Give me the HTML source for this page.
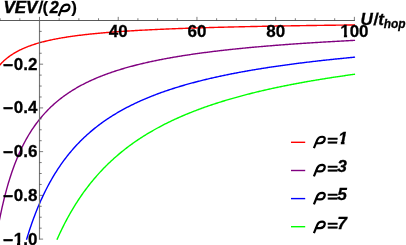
<!DOCTYPE html>
<html><head><meta charset="utf-8"><title>VEV plot</title><style>
html,body{margin:0;padding:0;background:#fff;}
svg{display:block;will-change:transform;}
text{font-family:"Liberation Sans",sans-serif;font-weight:bold;fill:#000;}
.it{font-style:italic;}
</style></head><body>
<svg width="406" height="245" viewBox="0 0 406 245">
<defs>
<path id="rho" d="M58.62 16.0 L62.0 7.7 C62.9 5.5 64.9 4.55 66.9 4.55 C68.8 4.55 69.8 5.8 69.4 7.4 C68.9 9.6 67.2 11.0 65.0 11.05 C63.4 11.1 61.8 11.0 60.75 10.75" fill="none" stroke="#000" stroke-width="2.2" stroke-linejoin="round"/>
</defs>
<filter id="soft" filterUnits="userSpaceOnUse" x="-10" y="-10" width="426" height="265"><feGaussianBlur stdDeviation="0.35"/></filter>
<g filter="url(#soft)">
<rect x="-10" y="-10" width="426" height="265" fill="#fff"/>
<path d="M-5.12 71.25 L-4.22 69.98 L-3.31 68.77 L-2.41 67.61 L-1.51 66.51 L-0.61 65.46 L0.29 64.45 L1.19 63.49 L2.09 62.57 L2.99 61.69 L3.89 60.85 L4.79 60.04 L5.70 59.26 L6.60 58.51 L7.50 57.79 L8.40 57.10 L9.30 56.43 L10.20 55.78 L11.10 55.16 L12.00 54.56 L12.90 53.98 L13.80 53.42 L14.71 52.88 L15.61 52.35 L16.51 51.84 L17.41 51.35 L18.31 50.88 L19.21 50.41 L20.11 49.97 L21.01 49.53 L21.91 49.11 L22.81 48.70 L23.72 48.30 L24.62 47.91 L25.52 47.53 L26.42 47.17 L27.32 46.81 L28.22 46.46 L29.12 46.12 L30.02 45.79 L30.92 45.47 L31.82 45.16 L32.72 44.85 L33.63 44.55 L34.53 44.26 L35.43 43.98 L36.33 43.70 L37.23 43.43 L38.13 43.16 L39.03 42.91 L39.93 42.65 L40.83 42.41 L41.73 42.16 L42.64 41.93 L43.54 41.70 L44.44 41.47 L45.34 41.25 L46.24 41.03 L47.14 40.82 L48.04 40.61 L48.94 40.41 L49.84 40.21 L50.74 40.01 L51.65 39.82 L52.55 39.63 L53.45 39.44 L54.35 39.26 L55.25 39.09 L56.15 38.91 L57.05 38.74 L57.95 38.57 L58.85 38.41 L59.75 38.24 L60.66 38.09 L61.56 37.93 L62.46 37.78 L63.36 37.62 L64.26 37.48 L65.16 37.33 L66.06 37.19 L66.96 37.05 L67.86 36.91 L68.76 36.77 L69.67 36.64 L70.57 36.51 L71.47 36.38 L72.37 36.25 L73.27 36.12 L74.17 36.00 L75.07 35.88 L75.97 35.76 L76.87 35.64 L77.77 35.52 L78.68 35.41 L79.58 35.30 L80.48 35.19 L81.38 35.08 L82.28 34.97 L83.18 34.86 L84.08 34.76 L84.98 34.65 L85.88 34.55 L86.78 34.45 L87.69 34.35 L88.59 34.26 L89.49 34.16 L90.39 34.07 L91.29 33.97 L92.19 33.88 L93.09 33.79 L93.99 33.70 L94.89 33.61 L95.79 33.52 L96.70 33.44 L97.60 33.35 L98.50 33.27 L99.40 33.19 L100.30 33.10 L101.20 33.02 L102.10 32.94 L103.00 32.87 L103.90 32.79 L104.80 32.71 L105.71 32.64 L106.61 32.56 L107.51 32.49 L108.41 32.41 L109.31 32.34 L110.21 32.27 L111.11 32.20 L112.01 32.13 L112.91 32.06 L113.81 31.99 L114.72 31.93 L115.62 31.86 L116.52 31.79 L117.42 31.73 L118.32 31.67 L119.22 31.60 L120.12 31.54 L121.02 31.48 L121.92 31.42 L122.82 31.35 L123.73 31.30 L124.63 31.24 L125.53 31.18 L126.43 31.12 L127.33 31.06 L128.23 31.00 L129.13 30.95 L130.03 30.89 L130.93 30.84 L131.83 30.78 L132.74 30.73 L133.64 30.68 L134.54 30.62 L135.44 30.57 L136.34 30.52 L137.24 30.47 L138.14 30.42 L139.04 30.37 L139.94 30.32 L140.84 30.27 L141.75 30.22 L142.65 30.17 L143.55 30.12 L144.45 30.08 L145.35 30.03 L146.25 29.98 L147.15 29.94 L148.05 29.89 L148.95 29.85 L149.85 29.80 L150.76 29.76 L151.66 29.72 L152.56 29.67 L153.46 29.63 L154.36 29.59 L155.26 29.54 L156.16 29.50 L157.06 29.46 L157.96 29.42 L158.86 29.38 L159.77 29.34 L160.67 29.30 L161.57 29.26 L162.47 29.22 L163.37 29.18 L164.27 29.14 L165.17 29.10 L166.07 29.07 L166.97 29.03 L167.87 28.99 L168.78 28.96 L169.68 28.92 L170.58 28.88 L171.48 28.85 L172.38 28.81 L173.28 28.78 L174.18 28.74 L175.08 28.71 L175.98 28.67 L176.88 28.64 L177.79 28.60 L178.69 28.57 L179.59 28.54 L180.49 28.50 L181.39 28.47 L182.29 28.44 L183.19 28.41 L184.09 28.37 L184.99 28.34 L185.89 28.31 L186.80 28.28 L187.70 28.25 L188.60 28.22 L189.50 28.19 L190.40 28.16 L191.30 28.13 L192.20 28.10 L193.10 28.07 L194.00 28.04 L194.90 28.01 L195.80 27.98 L196.71 27.95 L197.61 27.92 L198.51 27.90 L199.41 27.87 L200.31 27.84 L201.21 27.81 L202.11 27.78 L203.01 27.76 L203.91 27.73 L204.81 27.70 L205.72 27.68 L206.62 27.65 L207.52 27.62 L208.42 27.60 L209.32 27.57 L210.22 27.55 L211.12 27.52 L212.02 27.50 L212.92 27.47 L213.82 27.45 L214.73 27.42 L215.63 27.40 L216.53 27.37 L217.43 27.35 L218.33 27.32 L219.23 27.30 L220.13 27.28 L221.03 27.25 L221.93 27.23 L222.83 27.21 L223.74 27.18 L224.64 27.16 L225.54 27.14 L226.44 27.12 L227.34 27.09 L228.24 27.07 L229.14 27.05 L230.04 27.03 L230.94 27.00 L231.84 26.98 L232.75 26.96 L233.65 26.94 L234.55 26.92 L235.45 26.90 L236.35 26.88 L237.25 26.86 L238.15 26.83 L239.05 26.81 L239.95 26.79 L240.85 26.77 L241.76 26.75 L242.66 26.73 L243.56 26.71 L244.46 26.69 L245.36 26.67 L246.26 26.65 L247.16 26.63 L248.06 26.62 L248.96 26.60 L249.86 26.58 L250.77 26.56 L251.67 26.54 L252.57 26.52 L253.47 26.50 L254.37 26.48 L255.27 26.46 L256.17 26.45 L257.07 26.43 L257.97 26.41 L258.87 26.39 L259.78 26.37 L260.68 26.36 L261.58 26.34 L262.48 26.32 L263.38 26.30 L264.28 26.29 L265.18 26.27 L266.08 26.25 L266.98 26.24 L267.88 26.22 L268.79 26.20 L269.69 26.18 L270.59 26.17 L271.49 26.15 L272.39 26.14 L273.29 26.12 L274.19 26.10 L275.09 26.09 L275.99 26.07 L276.89 26.05 L277.80 26.04 L278.70 26.02 L279.60 26.01 L280.50 25.99 L281.40 25.98 L282.30 25.96 L283.20 25.94 L284.10 25.93 L285.00 25.91 L285.90 25.90 L286.81 25.88 L287.71 25.87 L288.61 25.85 L289.51 25.84 L290.41 25.83 L291.31 25.81 L292.21 25.80 L293.11 25.78 L294.01 25.77 L294.91 25.75 L295.82 25.74 L296.72 25.72 L297.62 25.71 L298.52 25.70 L299.42 25.68 L300.32 25.67 L301.22 25.65 L302.12 25.64 L303.02 25.63 L303.92 25.61 L304.83 25.60 L305.73 25.59 L306.63 25.57 L307.53 25.56 L308.43 25.55 L309.33 25.53 L310.23 25.52 L311.13 25.51 L312.03 25.49 L312.93 25.48 L313.84 25.47 L314.74 25.46 L315.64 25.44 L316.54 25.43 L317.44 25.42 L318.34 25.41 L319.24 25.39 L320.14 25.38 L321.04 25.37 L321.94 25.36 L322.85 25.34 L323.75 25.33 L324.65 25.32 L325.55 25.31 L326.45 25.30 L327.35 25.28 L328.25 25.27 L329.15 25.26 L330.05 25.25 L330.95 25.24 L331.86 25.23 L332.76 25.21 L333.66 25.20 L334.56 25.19 L335.46 25.18 L336.36 25.17 L337.26 25.16 L338.16 25.15 L339.06 25.14 L339.96 25.12 L340.87 25.11 L341.77 25.10 L342.67 25.09 L343.57 25.08 L344.47 25.07 L345.37 25.06 L346.27 25.05 L347.17 25.04 L348.07 25.03 L348.97 25.02 L349.88 25.01 L350.78 24.99 L351.68 24.98 L352.58 24.97 L353.48 24.96 L354.38 24.95" fill="none" stroke="#ff0000" stroke-width="1.4" stroke-linejoin="round" stroke-linecap="square"/>
<path d="M-3.31 235.08 L-2.41 229.93 L-1.51 225.02 L-0.61 220.33 L0.29 215.85 L1.19 211.57 L2.09 207.47 L2.99 203.55 L3.89 199.78 L4.79 196.17 L5.70 192.70 L6.60 189.37 L7.50 186.16 L8.40 183.07 L9.30 180.09 L10.20 177.22 L11.10 174.45 L12.00 171.78 L12.90 169.20 L13.80 166.71 L14.71 164.29 L15.61 161.96 L16.51 159.70 L17.41 157.51 L18.31 155.39 L19.21 153.34 L20.11 151.34 L21.01 149.41 L21.91 147.53 L22.81 145.70 L23.72 143.93 L24.62 142.21 L25.52 140.53 L26.42 138.90 L27.32 137.31 L28.22 135.77 L29.12 134.26 L30.02 132.80 L30.92 131.37 L31.82 129.97 L32.72 128.62 L33.63 127.29 L34.53 126.00 L35.43 124.74 L36.33 123.50 L37.23 122.30 L38.13 121.12 L39.03 119.98 L39.93 118.85 L40.83 117.75 L41.73 116.68 L42.64 115.63 L43.54 114.60 L44.44 113.60 L45.34 112.61 L46.24 111.65 L47.14 110.71 L48.04 109.78 L48.94 108.88 L49.84 107.99 L50.74 107.12 L51.65 106.27 L52.55 105.43 L53.45 104.61 L54.35 103.80 L55.25 103.02 L56.15 102.24 L57.05 101.48 L57.95 100.74 L58.85 100.00 L59.75 99.28 L60.66 98.58 L61.56 97.88 L62.46 97.20 L63.36 96.53 L64.26 95.87 L65.16 95.23 L66.06 94.59 L66.96 93.97 L67.86 93.35 L68.76 92.75 L69.67 92.15 L70.57 91.57 L71.47 90.99 L72.37 90.43 L73.27 89.87 L74.17 89.32 L75.07 88.78 L75.97 88.25 L76.87 87.73 L77.77 87.21 L78.68 86.71 L79.58 86.21 L80.48 85.71 L81.38 85.23 L82.28 84.75 L83.18 84.28 L84.08 83.82 L84.98 83.36 L85.88 82.91 L86.78 82.47 L87.69 82.03 L88.59 81.60 L89.49 81.17 L90.39 80.75 L91.29 80.34 L92.19 79.93 L93.09 79.53 L93.99 79.13 L94.89 78.74 L95.79 78.35 L96.70 77.97 L97.60 77.59 L98.50 77.22 L99.40 76.85 L100.30 76.49 L101.20 76.13 L102.10 75.78 L103.00 75.43 L103.90 75.08 L104.80 74.74 L105.71 74.41 L106.61 74.08 L107.51 73.75 L108.41 73.43 L109.31 73.11 L110.21 72.79 L111.11 72.48 L112.01 72.17 L112.91 71.86 L113.81 71.56 L114.72 71.26 L115.62 70.97 L116.52 70.68 L117.42 70.39 L118.32 70.11 L119.22 69.83 L120.12 69.55 L121.02 69.27 L121.92 69.00 L122.82 68.73 L123.73 68.47 L124.63 68.20 L125.53 67.94 L126.43 67.69 L127.33 67.43 L128.23 67.18 L129.13 66.93 L130.03 66.68 L130.93 66.44 L131.83 66.20 L132.74 65.96 L133.64 65.72 L134.54 65.49 L135.44 65.26 L136.34 65.03 L137.24 64.80 L138.14 64.58 L139.04 64.36 L139.94 64.14 L140.84 63.92 L141.75 63.70 L142.65 63.49 L143.55 63.28 L144.45 63.07 L145.35 62.86 L146.25 62.66 L147.15 62.45 L148.05 62.25 L148.95 62.05 L149.85 61.86 L150.76 61.66 L151.66 61.47 L152.56 61.27 L153.46 61.08 L154.36 60.90 L155.26 60.71 L156.16 60.52 L157.06 60.34 L157.96 60.16 L158.86 59.98 L159.77 59.80 L160.67 59.62 L161.57 59.45 L162.47 59.27 L163.37 59.10 L164.27 58.93 L165.17 58.76 L166.07 58.60 L166.97 58.43 L167.87 58.26 L168.78 58.10 L169.68 57.94 L170.58 57.78 L171.48 57.62 L172.38 57.46 L173.28 57.31 L174.18 57.15 L175.08 57.00 L175.98 56.84 L176.88 56.69 L177.79 56.54 L178.69 56.39 L179.59 56.25 L180.49 56.10 L181.39 55.96 L182.29 55.81 L183.19 55.67 L184.09 55.53 L184.99 55.39 L185.89 55.25 L186.80 55.11 L187.70 54.97 L188.60 54.84 L189.50 54.70 L190.40 54.57 L191.30 54.43 L192.20 54.30 L193.10 54.17 L194.00 54.04 L194.90 53.91 L195.80 53.78 L196.71 53.66 L197.61 53.53 L198.51 53.41 L199.41 53.28 L200.31 53.16 L201.21 53.04 L202.11 52.92 L203.01 52.79 L203.91 52.68 L204.81 52.56 L205.72 52.44 L206.62 52.32 L207.52 52.21 L208.42 52.09 L209.32 51.98 L210.22 51.86 L211.12 51.75 L212.02 51.64 L212.92 51.53 L213.82 51.42 L214.73 51.31 L215.63 51.20 L216.53 51.09 L217.43 50.98 L218.33 50.88 L219.23 50.77 L220.13 50.67 L221.03 50.56 L221.93 50.46 L222.83 50.35 L223.74 50.25 L224.64 50.15 L225.54 50.05 L226.44 49.95 L227.34 49.85 L228.24 49.75 L229.14 49.65 L230.04 49.56 L230.94 49.46 L231.84 49.36 L232.75 49.27 L233.65 49.17 L234.55 49.08 L235.45 48.98 L236.35 48.89 L237.25 48.80 L238.15 48.71 L239.05 48.62 L239.95 48.53 L240.85 48.44 L241.76 48.35 L242.66 48.26 L243.56 48.17 L244.46 48.08 L245.36 47.99 L246.26 47.91 L247.16 47.82 L248.06 47.73 L248.96 47.65 L249.86 47.57 L250.77 47.48 L251.67 47.40 L252.57 47.31 L253.47 47.23 L254.37 47.15 L255.27 47.07 L256.17 46.99 L257.07 46.91 L257.97 46.83 L258.87 46.75 L259.78 46.67 L260.68 46.59 L261.58 46.51 L262.48 46.43 L263.38 46.36 L264.28 46.28 L265.18 46.20 L266.08 46.13 L266.98 46.05 L267.88 45.98 L268.79 45.90 L269.69 45.83 L270.59 45.76 L271.49 45.68 L272.39 45.61 L273.29 45.54 L274.19 45.47 L275.09 45.39 L275.99 45.32 L276.89 45.25 L277.80 45.18 L278.70 45.11 L279.60 45.04 L280.50 44.97 L281.40 44.90 L282.30 44.84 L283.20 44.77 L284.10 44.70 L285.00 44.63 L285.90 44.57 L286.81 44.50 L287.71 44.43 L288.61 44.37 L289.51 44.30 L290.41 44.24 L291.31 44.17 L292.21 44.11 L293.11 44.04 L294.01 43.98 L294.91 43.92 L295.82 43.85 L296.72 43.79 L297.62 43.73 L298.52 43.67 L299.42 43.61 L300.32 43.54 L301.22 43.48 L302.12 43.42 L303.02 43.36 L303.92 43.30 L304.83 43.24 L305.73 43.18 L306.63 43.12 L307.53 43.06 L308.43 43.01 L309.33 42.95 L310.23 42.89 L311.13 42.83 L312.03 42.78 L312.93 42.72 L313.84 42.66 L314.74 42.61 L315.64 42.55 L316.54 42.49 L317.44 42.44 L318.34 42.38 L319.24 42.33 L320.14 42.27 L321.04 42.22 L321.94 42.16 L322.85 42.11 L323.75 42.06 L324.65 42.00 L325.55 41.95 L326.45 41.90 L327.35 41.84 L328.25 41.79 L329.15 41.74 L330.05 41.69 L330.95 41.64 L331.86 41.59 L332.76 41.53 L333.66 41.48 L334.56 41.43 L335.46 41.38 L336.36 41.33 L337.26 41.28 L338.16 41.23 L339.06 41.18 L339.96 41.13 L340.87 41.09 L341.77 41.04 L342.67 40.99 L343.57 40.94 L344.47 40.89 L345.37 40.84 L346.27 40.80 L347.17 40.75 L348.07 40.70 L348.97 40.65 L349.88 40.61 L350.78 40.56 L351.68 40.52 L352.58 40.47 L353.48 40.42 L354.38 40.38" fill="none" stroke="#800080" stroke-width="1.4" stroke-linejoin="round" stroke-linecap="square"/>
<path d="M26.67 239.10 L27.32 236.98 L28.22 234.10 L29.12 231.30 L30.02 228.57 L30.92 225.91 L31.82 223.32 L32.72 220.79 L33.63 218.32 L34.53 215.92 L35.43 213.57 L36.33 211.28 L37.23 209.04 L38.13 206.85 L39.03 204.71 L39.93 202.63 L40.83 200.59 L41.73 198.59 L42.64 196.64 L43.54 194.73 L44.44 192.86 L45.34 191.03 L46.24 189.24 L47.14 187.48 L48.04 185.77 L48.94 184.08 L49.84 182.43 L50.74 180.82 L51.65 179.23 L52.55 177.68 L53.45 176.16 L54.35 174.66 L55.25 173.20 L56.15 171.76 L57.05 170.35 L57.95 168.97 L58.85 167.61 L59.75 166.27 L60.66 164.96 L61.56 163.67 L62.46 162.41 L63.36 161.17 L64.26 159.94 L65.16 158.74 L66.06 157.57 L66.96 156.41 L67.86 155.27 L68.76 154.14 L69.67 153.04 L70.57 151.96 L71.47 150.89 L72.37 149.84 L73.27 148.81 L74.17 147.79 L75.07 146.79 L75.97 145.80 L76.87 144.83 L77.77 143.88 L78.68 142.94 L79.58 142.01 L80.48 141.10 L81.38 140.20 L82.28 139.32 L83.18 138.44 L84.08 137.58 L84.98 136.74 L85.88 135.90 L86.78 135.08 L87.69 134.27 L88.59 133.47 L89.49 132.68 L90.39 131.90 L91.29 131.13 L92.19 130.38 L93.09 129.63 L93.99 128.89 L94.89 128.17 L95.79 127.45 L96.70 126.74 L97.60 126.04 L98.50 125.35 L99.40 124.67 L100.30 124.00 L101.20 123.34 L102.10 122.69 L103.00 122.04 L103.90 121.40 L104.80 120.77 L105.71 120.15 L106.61 119.53 L107.51 118.93 L108.41 118.33 L109.31 117.74 L110.21 117.15 L111.11 116.57 L112.01 116.00 L112.91 115.44 L113.81 114.88 L114.72 114.33 L115.62 113.78 L116.52 113.24 L117.42 112.71 L118.32 112.18 L119.22 111.66 L120.12 111.15 L121.02 110.64 L121.92 110.14 L122.82 109.64 L123.73 109.15 L124.63 108.66 L125.53 108.18 L126.43 107.70 L127.33 107.23 L128.23 106.77 L129.13 106.31 L130.03 105.85 L130.93 105.40 L131.83 104.95 L132.74 104.51 L133.64 104.07 L134.54 103.64 L135.44 103.21 L136.34 102.79 L137.24 102.37 L138.14 101.95 L139.04 101.54 L139.94 101.13 L140.84 100.73 L141.75 100.33 L142.65 99.94 L143.55 99.55 L144.45 99.16 L145.35 98.78 L146.25 98.40 L147.15 98.02 L148.05 97.65 L148.95 97.28 L149.85 96.91 L150.76 96.55 L151.66 96.19 L152.56 95.84 L153.46 95.49 L154.36 95.14 L155.26 94.79 L156.16 94.45 L157.06 94.11 L157.96 93.77 L158.86 93.44 L159.77 93.11 L160.67 92.78 L161.57 92.46 L162.47 92.14 L163.37 91.82 L164.27 91.51 L165.17 91.19 L166.07 90.88 L166.97 90.58 L167.87 90.27 L168.78 89.97 L169.68 89.67 L170.58 89.37 L171.48 89.08 L172.38 88.79 L173.28 88.50 L174.18 88.21 L175.08 87.93 L175.98 87.64 L176.88 87.36 L177.79 87.09 L178.69 86.81 L179.59 86.54 L180.49 86.27 L181.39 86.00 L182.29 85.73 L183.19 85.47 L184.09 85.21 L184.99 84.95 L185.89 84.69 L186.80 84.43 L187.70 84.18 L188.60 83.93 L189.50 83.68 L190.40 83.43 L191.30 83.19 L192.20 82.94 L193.10 82.70 L194.00 82.46 L194.90 82.22 L195.80 81.99 L196.71 81.75 L197.61 81.52 L198.51 81.29 L199.41 81.06 L200.31 80.83 L201.21 80.60 L202.11 80.38 L203.01 80.16 L203.91 79.94 L204.81 79.72 L205.72 79.50 L206.62 79.28 L207.52 79.07 L208.42 78.86 L209.32 78.64 L210.22 78.43 L211.12 78.23 L212.02 78.02 L212.92 77.81 L213.82 77.61 L214.73 77.41 L215.63 77.21 L216.53 77.01 L217.43 76.81 L218.33 76.61 L219.23 76.42 L220.13 76.22 L221.03 76.03 L221.93 75.84 L222.83 75.65 L223.74 75.46 L224.64 75.27 L225.54 75.08 L226.44 74.90 L227.34 74.72 L228.24 74.53 L229.14 74.35 L230.04 74.17 L230.94 73.99 L231.84 73.81 L232.75 73.64 L233.65 73.46 L234.55 73.29 L235.45 73.12 L236.35 72.94 L237.25 72.77 L238.15 72.60 L239.05 72.43 L239.95 72.27 L240.85 72.10 L241.76 71.93 L242.66 71.77 L243.56 71.61 L244.46 71.44 L245.36 71.28 L246.26 71.12 L247.16 70.96 L248.06 70.81 L248.96 70.65 L249.86 70.49 L250.77 70.34 L251.67 70.18 L252.57 70.03 L253.47 69.88 L254.37 69.73 L255.27 69.57 L256.17 69.43 L257.07 69.28 L257.97 69.13 L258.87 68.98 L259.78 68.84 L260.68 68.69 L261.58 68.55 L262.48 68.40 L263.38 68.26 L264.28 68.12 L265.18 67.98 L266.08 67.84 L266.98 67.70 L267.88 67.56 L268.79 67.42 L269.69 67.28 L270.59 67.15 L271.49 67.01 L272.39 66.88 L273.29 66.75 L274.19 66.61 L275.09 66.48 L275.99 66.35 L276.89 66.22 L277.80 66.09 L278.70 65.96 L279.60 65.83 L280.50 65.70 L281.40 65.58 L282.30 65.45 L283.20 65.32 L284.10 65.20 L285.00 65.07 L285.90 64.95 L286.81 64.83 L287.71 64.71 L288.61 64.58 L289.51 64.46 L290.41 64.34 L291.31 64.22 L292.21 64.11 L293.11 63.99 L294.01 63.87 L294.91 63.75 L295.82 63.64 L296.72 63.52 L297.62 63.41 L298.52 63.29 L299.42 63.18 L300.32 63.06 L301.22 62.95 L302.12 62.84 L303.02 62.73 L303.92 62.62 L304.83 62.51 L305.73 62.40 L306.63 62.29 L307.53 62.18 L308.43 62.07 L309.33 61.96 L310.23 61.86 L311.13 61.75 L312.03 61.64 L312.93 61.54 L313.84 61.43 L314.74 61.33 L315.64 61.23 L316.54 61.12 L317.44 61.02 L318.34 60.92 L319.24 60.82 L320.14 60.72 L321.04 60.61 L321.94 60.51 L322.85 60.42 L323.75 60.32 L324.65 60.22 L325.55 60.12 L326.45 60.02 L327.35 59.92 L328.25 59.83 L329.15 59.73 L330.05 59.64 L330.95 59.54 L331.86 59.45 L332.76 59.35 L333.66 59.26 L334.56 59.16 L335.46 59.07 L336.36 58.98 L337.26 58.89 L338.16 58.79 L339.06 58.70 L339.96 58.61 L340.87 58.52 L341.77 58.43 L342.67 58.34 L343.57 58.25 L344.47 58.16 L345.37 58.08 L346.27 57.99 L347.17 57.90 L348.07 57.81 L348.97 57.73 L349.88 57.64 L350.78 57.56 L351.68 57.47 L352.58 57.38 L353.48 57.30 L354.38 57.22" fill="none" stroke="#0000ff" stroke-width="1.4" stroke-linejoin="round" stroke-linecap="square"/>
<path d="M57.21 239.10 L57.95 237.43 L58.85 235.45 L59.75 233.51 L60.66 231.60 L61.56 229.72 L62.46 227.88 L63.36 226.07 L64.26 224.29 L65.16 222.55 L66.06 220.83 L66.96 219.14 L67.86 217.48 L68.76 215.84 L69.67 214.24 L70.57 212.66 L71.47 211.10 L72.37 209.57 L73.27 208.06 L74.17 206.58 L75.07 205.12 L75.97 203.69 L76.87 202.27 L77.77 200.88 L78.68 199.51 L79.58 198.16 L80.48 196.83 L81.38 195.52 L82.28 194.23 L83.18 192.96 L84.08 191.70 L84.98 190.47 L85.88 189.25 L86.78 188.05 L87.69 186.87 L88.59 185.70 L89.49 184.55 L90.39 183.41 L91.29 182.29 L92.19 181.19 L93.09 180.10 L93.99 179.03 L94.89 177.97 L95.79 176.92 L96.70 175.89 L97.60 174.87 L98.50 173.86 L99.40 172.87 L100.30 171.89 L101.20 170.93 L102.10 169.97 L103.00 169.03 L103.90 168.10 L104.80 167.18 L105.71 166.27 L106.61 165.37 L107.51 164.49 L108.41 163.61 L109.31 162.75 L110.21 161.89 L111.11 161.05 L112.01 160.22 L112.91 159.39 L113.81 158.58 L114.72 157.77 L115.62 156.98 L116.52 156.19 L117.42 155.41 L118.32 154.64 L119.22 153.88 L120.12 153.13 L121.02 152.39 L121.92 151.66 L122.82 150.93 L123.73 150.21 L124.63 149.50 L125.53 148.80 L126.43 148.10 L127.33 147.41 L128.23 146.73 L129.13 146.06 L130.03 145.39 L130.93 144.74 L131.83 144.08 L132.74 143.44 L133.64 142.80 L134.54 142.17 L135.44 141.54 L136.34 140.92 L137.24 140.31 L138.14 139.70 L139.04 139.10 L139.94 138.51 L140.84 137.92 L141.75 137.34 L142.65 136.76 L143.55 136.19 L144.45 135.62 L145.35 135.06 L146.25 134.51 L147.15 133.96 L148.05 133.41 L148.95 132.88 L149.85 132.34 L150.76 131.81 L151.66 131.29 L152.56 130.77 L153.46 130.26 L154.36 129.75 L155.26 129.24 L156.16 128.74 L157.06 128.25 L157.96 127.76 L158.86 127.27 L159.77 126.79 L160.67 126.31 L161.57 125.84 L162.47 125.37 L163.37 124.90 L164.27 124.44 L165.17 123.98 L166.07 123.53 L166.97 123.08 L167.87 122.64 L168.78 122.20 L169.68 121.76 L170.58 121.33 L171.48 120.90 L172.38 120.47 L173.28 120.05 L174.18 119.63 L175.08 119.21 L175.98 118.80 L176.88 118.39 L177.79 117.99 L178.69 117.58 L179.59 117.18 L180.49 116.79 L181.39 116.40 L182.29 116.01 L183.19 115.62 L184.09 115.24 L184.99 114.86 L185.89 114.48 L186.80 114.11 L187.70 113.74 L188.60 113.37 L189.50 113.00 L190.40 112.64 L191.30 112.28 L192.20 111.93 L193.10 111.57 L194.00 111.22 L194.90 110.87 L195.80 110.53 L196.71 110.19 L197.61 109.84 L198.51 109.51 L199.41 109.17 L200.31 108.84 L201.21 108.51 L202.11 108.18 L203.01 107.86 L203.91 107.53 L204.81 107.21 L205.72 106.89 L206.62 106.58 L207.52 106.26 L208.42 105.95 L209.32 105.64 L210.22 105.34 L211.12 105.03 L212.02 104.73 L212.92 104.43 L213.82 104.13 L214.73 103.83 L215.63 103.54 L216.53 103.25 L217.43 102.96 L218.33 102.67 L219.23 102.38 L220.13 102.10 L221.03 101.82 L221.93 101.54 L222.83 101.26 L223.74 100.98 L224.64 100.71 L225.54 100.44 L226.44 100.17 L227.34 99.90 L228.24 99.63 L229.14 99.37 L230.04 99.10 L230.94 98.84 L231.84 98.58 L232.75 98.32 L233.65 98.07 L234.55 97.81 L235.45 97.56 L236.35 97.31 L237.25 97.06 L238.15 96.81 L239.05 96.56 L239.95 96.32 L240.85 96.07 L241.76 95.83 L242.66 95.59 L243.56 95.35 L244.46 95.12 L245.36 94.88 L246.26 94.65 L247.16 94.41 L248.06 94.18 L248.96 93.95 L249.86 93.72 L250.77 93.50 L251.67 93.27 L252.57 93.05 L253.47 92.82 L254.37 92.60 L255.27 92.38 L256.17 92.16 L257.07 91.94 L257.97 91.73 L258.87 91.51 L259.78 91.30 L260.68 91.09 L261.58 90.88 L262.48 90.67 L263.38 90.46 L264.28 90.25 L265.18 90.04 L266.08 89.84 L266.98 89.64 L267.88 89.43 L268.79 89.23 L269.69 89.03 L270.59 88.83 L271.49 88.63 L272.39 88.44 L273.29 88.24 L274.19 88.05 L275.09 87.85 L275.99 87.66 L276.89 87.47 L277.80 87.28 L278.70 87.09 L279.60 86.90 L280.50 86.72 L281.40 86.53 L282.30 86.35 L283.20 86.16 L284.10 85.98 L285.00 85.80 L285.90 85.62 L286.81 85.44 L287.71 85.26 L288.61 85.08 L289.51 84.90 L290.41 84.73 L291.31 84.55 L292.21 84.38 L293.11 84.21 L294.01 84.03 L294.91 83.86 L295.82 83.69 L296.72 83.52 L297.62 83.36 L298.52 83.19 L299.42 83.02 L300.32 82.86 L301.22 82.69 L302.12 82.53 L303.02 82.36 L303.92 82.20 L304.83 82.04 L305.73 81.88 L306.63 81.72 L307.53 81.56 L308.43 81.40 L309.33 81.25 L310.23 81.09 L311.13 80.93 L312.03 80.78 L312.93 80.62 L313.84 80.47 L314.74 80.32 L315.64 80.17 L316.54 80.02 L317.44 79.87 L318.34 79.72 L319.24 79.57 L320.14 79.42 L321.04 79.27 L321.94 79.13 L322.85 78.98 L323.75 78.84 L324.65 78.69 L325.55 78.55 L326.45 78.40 L327.35 78.26 L328.25 78.12 L329.15 77.98 L330.05 77.84 L330.95 77.70 L331.86 77.56 L332.76 77.42 L333.66 77.29 L334.56 77.15 L335.46 77.01 L336.36 76.88 L337.26 76.74 L338.16 76.61 L339.06 76.48 L339.96 76.34 L340.87 76.21 L341.77 76.08 L342.67 75.95 L343.57 75.82 L344.47 75.69 L345.37 75.56 L346.27 75.43 L347.17 75.30 L348.07 75.17 L348.97 75.05 L349.88 74.92 L350.78 74.80 L351.68 74.67 L352.58 74.55 L353.48 74.42 L354.38 74.30" fill="none" stroke="#00ff00" stroke-width="1.4" stroke-linejoin="round" stroke-linecap="square"/>
<path d="M-5 20.45 H354.88" stroke="#5a5a5a" stroke-width="1.05" fill="none"/>
<path d="M39.50 20.45 V239.60" stroke="#747474" stroke-width="1.15" fill="none"/>
<g stroke="#444" stroke-width="0.7" fill="none">
<path d="M0.14 20.45 v-2.20"/>
<path d="M19.82 20.45 v-2.20"/>
<path d="M39.50 20.45 v-3.60"/>
<path d="M59.18 20.45 v-2.20"/>
<path d="M78.86 20.45 v-2.20"/>
<path d="M98.54 20.45 v-2.20"/>
<path d="M118.22 20.45 v-3.60"/>
<path d="M137.90 20.45 v-2.20"/>
<path d="M157.58 20.45 v-2.20"/>
<path d="M177.26 20.45 v-2.20"/>
<path d="M196.94 20.45 v-3.60"/>
<path d="M216.62 20.45 v-2.20"/>
<path d="M236.30 20.45 v-2.20"/>
<path d="M255.98 20.45 v-2.20"/>
<path d="M275.66 20.45 v-3.60"/>
<path d="M295.34 20.45 v-2.20"/>
<path d="M315.02 20.45 v-2.20"/>
<path d="M334.70 20.45 v-2.20"/>
<path d="M354.38 20.45 v-3.60"/>
<path d="M39.50 31.38 h2.20"/>
<path d="M39.50 42.31 h2.20"/>
<path d="M39.50 53.25 h2.20"/>
<path d="M39.50 64.18 h3.60"/>
<path d="M39.50 75.11 h2.20"/>
<path d="M39.50 86.05 h2.20"/>
<path d="M39.50 96.98 h2.20"/>
<path d="M39.50 107.91 h3.60"/>
<path d="M39.50 118.84 h2.20"/>
<path d="M39.50 129.78 h2.20"/>
<path d="M39.50 140.71 h2.20"/>
<path d="M39.50 151.64 h3.60"/>
<path d="M39.50 162.57 h2.20"/>
<path d="M39.50 173.50 h2.20"/>
<path d="M39.50 184.44 h2.20"/>
<path d="M39.50 195.37 h3.60"/>
<path d="M39.50 206.30 h2.20"/>
<path d="M39.50 217.23 h2.20"/>
<path d="M39.50 228.17 h2.20"/>
<path d="M39.50 239.10 h3.60"/>
</g>
<text class="" transform="translate(118.22 37.35) scale(1.000 1)" font-size="17.00" text-anchor="middle" stroke="#000" stroke-width="0.28">40</text>
<text class="" transform="translate(196.94 37.35) scale(1.000 1)" font-size="17.00" text-anchor="middle" stroke="#000" stroke-width="0.28">60</text>
<text class="" transform="translate(275.66 37.35) scale(1.000 1)" font-size="17.00" text-anchor="middle" stroke="#000" stroke-width="0.28">80</text>
<text class="" transform="translate(354.38 37.35) scale(1.000 1)" font-size="17.00" text-anchor="middle" stroke="#000" stroke-width="0.28">100</text>
<text class="" transform="translate(37.50 69.68) scale(1.000 1)" font-size="17.00" text-anchor="end" stroke="#000" stroke-width="0.28"><tspan dy="1" stroke-width="0.6">−</tspan><tspan dx="0.7" dy="-1">0.2</tspan></text>
<text class="" transform="translate(37.50 113.41) scale(1.000 1)" font-size="17.00" text-anchor="end" stroke="#000" stroke-width="0.28"><tspan dy="1" stroke-width="0.6">−</tspan><tspan dx="0.7" dy="-1">0.4</tspan></text>
<text class="" transform="translate(37.50 157.14) scale(1.000 1)" font-size="17.00" text-anchor="end" stroke="#000" stroke-width="0.28"><tspan dy="1" stroke-width="0.6">−</tspan><tspan dx="0.7" dy="-1">0.6</tspan></text>
<text class="" transform="translate(37.50 200.87) scale(1.000 1)" font-size="17.00" text-anchor="end" stroke="#000" stroke-width="0.28"><tspan dy="1" stroke-width="0.6">−</tspan><tspan dx="0.7" dy="-1">0.8</tspan></text>
<text class="" transform="translate(37.50 244.60) scale(1.000 1)" font-size="17.00" text-anchor="end" stroke="#000" stroke-width="0.28"><tspan dy="1" stroke-width="0.6">−</tspan><tspan dx="0.7" dy="-1">1.0</tspan></text>
<text class="it" transform="translate(3.60 12.5) scale(1.000 1)" font-size="17" stroke="#000" stroke-width="0.45">V</text>
<text class="it" transform="translate(14.80 12.5) scale(1.000 1)" font-size="17" stroke="#000" stroke-width="0.45">E</text>
<text class="it" transform="translate(26.10 12.5) scale(1.000 1)" font-size="17" stroke="#000" stroke-width="0.45">V</text>
<text class="" transform="translate(37.80 12.5) scale(1.000 1) skewX(-5)" font-size="17" stroke="#000" stroke-width="0.2">/</text>
<text class="" transform="translate(42.50 12.5) scale(1.000 1)" font-size="17" stroke="#000" stroke-width="0.2">(</text>
<text class="it" transform="translate(49.80 12.5) scale(0.940 1)" font-size="17" stroke="#000" stroke-width="0.45">2</text>
<text class="" transform="translate(71.20 12.5) scale(1.000 1)" font-size="17" stroke="#000" stroke-width="0.2">)</text>
<use href="#rho"/>
<text class="it" transform="translate(360.50 24.50) skewX(0)" font-size="17" stroke="#000" stroke-width="0.3">U</text>
<text class="" transform="translate(373.20 24.50) skewX(-4.5)" font-size="17" stroke="#000" stroke-width="0.3">/</text>
<text class="it" transform="translate(378.30 24.50) skewX(0)" font-size="17" stroke="#000" stroke-width="0.3">t</text>
<text class="it" transform="translate(383.70 27.80) skewX(0)" font-size="11.9" stroke="#000" stroke-width="0.3">hop</text>
<path d="M291 142.30 H305.2" stroke="#ff0000" stroke-width="1.4" fill="none"/>
<use href="#rho" transform="translate(255.3 132.20)"/>
<text class="it" transform="translate(327.0 144.85) scale(1.1 0.76)" font-size="16.5" stroke="#000" stroke-width="0.7">=</text>
<text class="it" transform="translate(337.90 144.30) scale(1.050 1)" font-size="16.50" text-anchor="start" stroke="#000" stroke-width="0.28">1</text>
<path d="M291 170.50 H305.2" stroke="#800080" stroke-width="1.4" fill="none"/>
<use href="#rho" transform="translate(255.3 160.30)"/>
<text class="it" transform="translate(327.0 172.95) scale(1.1 0.76)" font-size="16.5" stroke="#000" stroke-width="0.7">=</text>
<text class="it" transform="translate(337.30 172.40) scale(1.050 1)" font-size="16.50" text-anchor="start" stroke="#000" stroke-width="0.28">3</text>
<path d="M291 198.60 H305.2" stroke="#0000ff" stroke-width="1.4" fill="none"/>
<use href="#rho" transform="translate(255.3 188.30)"/>
<text class="it" transform="translate(327.0 200.95) scale(1.1 0.76)" font-size="16.5" stroke="#000" stroke-width="0.7">=</text>
<text class="it" transform="translate(337.30 200.40) scale(1.050 1)" font-size="16.50" text-anchor="start" stroke="#000" stroke-width="0.28">5</text>
<path d="M291 226.70 H305.2" stroke="#00ff00" stroke-width="1.4" fill="none"/>
<use href="#rho" transform="translate(255.3 217.10)"/>
<text class="it" transform="translate(327.0 229.75) scale(1.1 0.76)" font-size="16.5" stroke="#000" stroke-width="0.7">=</text>
<text class="it" transform="translate(337.30 229.20) scale(1.050 1)" font-size="16.50" text-anchor="start" stroke="#000" stroke-width="0.28">7</text>
<rect x="337.3" y="141.7" width="3.5" height="3.1" fill="#fff"/>
<rect x="344.5" y="141.7" width="3.5" height="3.1" fill="#fff"/>
<rect x="340.4" y="34.6" width="3.5" height="3.3" fill="#fff"/>
<rect x="347.1" y="34.6" width="3.2" height="3.3" fill="#fff"/>
<rect x="13.4" y="242.4" width="3.6" height="2.6" fill="#fff"/>
<rect x="20.2" y="242.4" width="3.0" height="2.6" fill="#fff"/>
</g>
</svg></body></html>
